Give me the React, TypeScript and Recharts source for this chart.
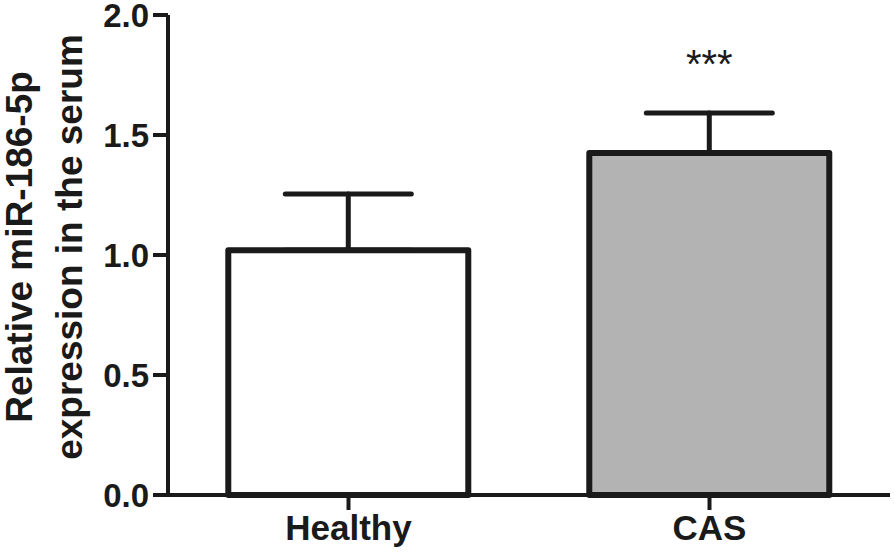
import React from "react";
import { BarChart, Bar, XAxis, YAxis, ErrorBar, Cell, LabelList } from "recharts";

const groups = ["Healthy", "CAS"];
const means = [1.02, 1.425];
const sems = [0.234, 0.167];
const stars = ["", "***"];
const fills = ["#ffffff", "#b3b3b3"];
const yTicks = [0, 0.5, 1.0, 1.5, 2.0];

const data = groups.map((g, i) => ({
  group: g,
  mean: means[i],
  err: [0, sems[i]],
  sig: stars[i],
}));

const FONT = '"Liberation Sans", Arial, Helvetica, sans-serif';

const YLabel = (props: any) => {
  const vb = props.viewBox || { x: 0, y: 0, width: 0, height: 0 };
  const cy = vb.y + vb.height / 2 - 8;
  return (
    <g fontFamily={FONT} fontWeight="bold" fontSize={37} fill="#1a1a1a">
      <text x={32} y={cy} textAnchor="middle" transform={`rotate(-90 32 ${cy})`}>
        Relative miR-186-5p
      </text>
      <text x={82} y={cy} textAnchor="middle" transform={`rotate(-90 82 ${cy})`}>
        expression in the serum
      </text>
    </g>
  );
};

const StarLabel = (props: any) => {
  const { x, y, width, height, value, index } = props;
  if (!value) return null;
  const pxPerUnit = height / means[index];
  const top = y - sems[index] * pxPerUnit;
  return (
    <text x={x + width / 2} y={top - 35} textAnchor="middle" fontFamily={FONT} fontSize={40} fill="#1a1a1a">
      {value}
    </text>
  );
};

export default function App() {
  return (
    <div style={{ position: "absolute", left: 0, top: 0, width: 894, height: 554, background: "#fff" }}>
      <BarChart
        width={894}
        height={554}
        data={data}
        margin={{ top: 15, right: 4, bottom: 9, left: 108 }}
        barCategoryGap="16.7%"
      >
        <XAxis
          dataKey="group"
          height={50}
          stroke="#1a1a1a"
          axisLine={{ stroke: "#1a1a1a", strokeWidth: 4 }}
          tickLine={{ stroke: "#1a1a1a", strokeWidth: 4 }}
          tickSize={15}
          tickMargin={5}
          tick={{ fill: "#1a1a1a", fontSize: 35, fontWeight: "bold", fontFamily: FONT }}
        />
        <YAxis
          width={60}
          domain={[0, 2]}
          ticks={yTicks}
          interval={0}
          tickFormatter={(v: number) => v.toFixed(1)}
          axisLine={{ stroke: "#1a1a1a", strokeWidth: 4 }}
          tickLine={{ stroke: "#1a1a1a", strokeWidth: 4 }}
          tickSize={15}
          tickMargin={4}
          tick={{ fill: "#1a1a1a", fontSize: 33, fontWeight: "bold", fontFamily: FONT }}
          label={{ content: YLabel }}
        />
        <Bar
          dataKey="mean"
          stroke="#1a1a1a"
          strokeWidth={6}
          strokeLinejoin="round"
          isAnimationActive={false}
        >
          {data.map((d, i) => (
            <Cell key={d.group} fill={fills[i]} />
          ))}
          <ErrorBar
            dataKey="err"
            direction="y"
            width={63}
            stroke="#1a1a1a"
            strokeWidth={5}
            strokeLinecap="round"
            isAnimationActive={false}
          />
          <LabelList dataKey="sig" content={StarLabel} />
        </Bar>
      </BarChart>
    </div>
  );
}
